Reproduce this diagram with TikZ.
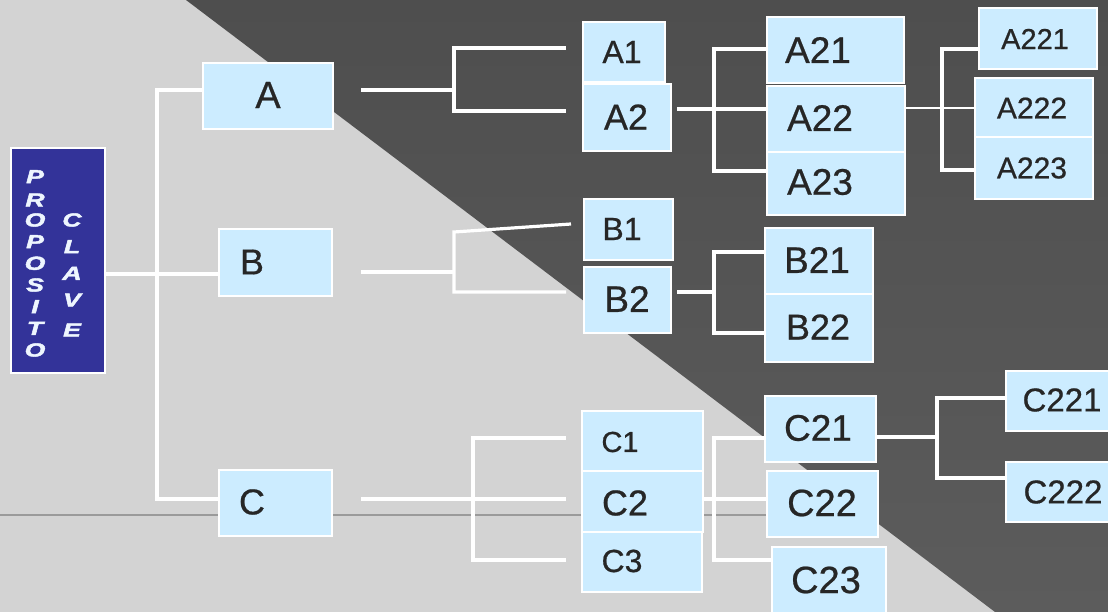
\documentclass[tikz,border=0pt]{standalone}
\usepackage{fontspec}
\setmainfont{Liberation Sans}[FakeBold=0.6]
\newfontfamily\letterfont{Liberation Sans}[FakeBold=2]
\definecolor{bglight}{HTML}{D3D3D3}
\definecolor{bgdarktop}{HTML}{4E4E4E}
\definecolor{bgdarkbot}{HTML}{5C5C5C}
\definecolor{boxfill}{RGB}{204,236,255}
\definecolor{txt}{HTML}{262626}
\definecolor{navy}{HTML}{333399}
\definecolor{rulegrey}{HTML}{9A9A9A}
\definecolor{letterfill}{HTML}{EEF6FF}
\newcommand\fsz[1]{\fontsize{#1}{#1}\selectfont}
\newcommand\bx[5]{\node[box, minimum width={(#4-#2)*1pt}, minimum height={(#5-#3)*1pt}] (#1) at ({(#2+#4)/2},{(#3+#5)/2}) {};}
\begin{document}
\begin{tikzpicture}[x=1pt,y=-1pt,
  box/.style={draw=white, line width=2.4pt, fill=boxfill, inner sep=0pt, outer sep=0pt, rectangle},
  lbl/.style={text=txt, inner sep=0pt, anchor=center},
  conn/.style={draw=white, line width=3.2pt},
  pletter/.style={text=letterfill, inner sep=0pt, font=\fsz{19}\letterfont\bfseries\itshape, xscale=1.4}]
\useasboundingbox (0,0) rectangle (1108,612);
% background
\fill[bglight] (0,0) rectangle (1108,612);
\shade[top color=bgdarktop, bottom color=bgdarkbot] (186,0) -- (1108,0) -- (1108,612) -- (995,612) -- cycle;
\draw[draw=rulegrey, line width=1.2pt] (0,515) -- (770,515);

% junction coordinates and free ends
\coordinate (j0) at (157,274);
\coordinate (j0t) at (157,90);
\coordinate (j0b) at (157,499);
\coordinate (aS) at (361,90);
\coordinate (jA) at (454,90);
\coordinate (jAt) at (454,48);
\coordinate (jAb) at (454,111);
\coordinate (aE1) at (566,48);
\coordinate (aE2) at (566,111);
\coordinate (a2S) at (677,109);
\coordinate (jA2) at (714,109);
\coordinate (jA2t) at (714,49);
\coordinate (jA2b) at (714,171);
\coordinate (jA22) at (942,108);
\coordinate (jA22t) at (942,49);
\coordinate (jA22b) at (942,170);
\coordinate (bS) at (361,272);
\coordinate (jB) at (454,272);
\coordinate (jBt) at (454,232);
\coordinate (jBb) at (454,292);
\coordinate (bE1) at (571,224);
\coordinate (bE2) at (566,292);
\coordinate (b2S) at (677,292);
\coordinate (jB2) at (714,292);
\coordinate (jB2t) at (714,252);
\coordinate (jB2b) at (714,333);
\coordinate (cS) at (361,499);
\coordinate (jC) at (473,499);
\coordinate (jCt) at (473,438);
\coordinate (jCb) at (473,560);
\coordinate (cE1) at (566,438);
\coordinate (cE2) at (566,499);
\coordinate (cE3) at (566,560);
\coordinate (jC2) at (714,499);
\coordinate (jC2t) at (714,438);
\coordinate (jC2b) at (714,560);
\coordinate (jC21) at (937,437);
\coordinate (jC21t) at (937,398);
\coordinate (jC21b) at (937,478);

% boxes
\node[draw=white, line width=2.4pt, fill=navy, inner sep=0pt, minimum width=94pt, minimum height=225pt] (P) at (58,260.5) {};
\bx{A}{203}{63}{333}{129}
\bx{B}{219}{229}{332}{296}
\bx{C}{219}{470}{332}{536}
\bx{A1}{583}{22}{665}{82}
\bx{A2}{583}{84}{671}{151}
\bx{A21}{767}{17}{904}{83}
\bx{A22}{767}{86}{905}{152}
\bx{A23}{767}{152}{905}{215}
\bx{A221}{979}{8}{1097}{69}
\bx{A222}{975}{78}{1093}{137}
\bx{A223}{975}{137}{1093}{199}
\bx{B1}{584}{199}{673}{260}
\bx{B2}{584}{267}{671}{333}
\bx{B21}{765}{228}{873}{294}
\bx{B22}{765}{294}{873}{362}
\bx{C1}{582}{411}{703}{471}
\bx{C2}{582}{471}{703}{532}
\bx{C3}{582}{532}{702}{592}
\bx{C21}{765}{396}{876}{462}
\bx{C22}{767}{471}{878}{537}
\bx{C23}{772}{547}{886}{622}
\bx{C221}{1006}{371}{1116}{431}
\bx{C222}{1006}{462}{1116}{522}

% level 0 connectors
\draw[conn] (P.east |- j0) -- (j0);
\draw[conn] (A.west |- j0t) -- (j0t) -- (j0b) -- (C.west |- j0b);
\draw[conn] (j0) -- (B.west |- j0);
% A branch
\draw[conn] (aS) -- (jA);
\draw[conn] (aE1) -- (jAt) -- (jAb) -- (aE2);
\draw[conn] (a2S) -- (jA2);
\draw[conn] (A21.west |- jA2t) -- (jA2t) -- (jA2b) -- (A23.west |- jA2b);
\draw[conn] (jA2) -- (A22.west |- jA2);
\draw[conn, line width=2.4pt] (A22.east |- jA22) -- (jA22);
\draw[conn] (A221.west |- jA22t) -- (jA22t) -- (jA22b) -- (A223.west |- jA22b);
\draw[conn, line width=2.4pt] (jA22) -- (A222.west |- jA22);
% B branch
\draw[conn] (bS) -- (jB);
\draw[conn] (bE1) -- (jBt) -- (jBb) -- (bE2);
\draw[conn] (b2S) -- (jB2);
\draw[conn] (B21.west |- jB2t) -- (jB2t) -- (jB2b) -- (B22.west |- jB2b);
% C branch
\draw[conn] (cS) -- (jC);
\draw[conn] (cE1) -- (jCt) -- (jCb) -- (cE3);
\draw[conn] (jC) -- (cE2);
\draw[conn] (C2.east |- jC2) -- (jC2);
\draw[conn] (C21.west |- jC2t) -- (jC2t) -- (jC2b) -- (C23.west |- jC2b);
\draw[conn] (jC2) -- (C22.west |- jC2);
\draw[conn] (C21.east |- jC21) -- (jC21);
\draw[conn] (C221.west |- jC21t) -- (jC21t) -- (jC21b) -- (C222.west |- jC21b);

% texts
\node[lbl, font=\fsz{38}] (At) at (268,95) {A};
\node[lbl, font=\fsz{36}] (Bt) at (252,262) {B};
\node[lbl, font=\fsz{36}] (Ct) at (252,502) {C};
\node[lbl, font=\fsz{32}] (A1t) at (622,52) {A1};
\node[lbl, font=\fsz{36}] (A2t) at (626,117) {A2};
\node[lbl, font=\fsz{37}] (A21t) at (818,50) {A21};
\node[lbl, font=\fsz{37}] (A22t) at (820,118) {A22};
\node[lbl, font=\fsz{37}] (A23t) at (820,182) {A23};
\node[lbl, font=\fsz{29}] (A221t) at (1035,39) {A221};
\node[lbl, font=\fsz{30}] (A222t) at (1032,108) {A222};
\node[lbl, font=\fsz{30}] (A223t) at (1032,168) {A223};
\node[lbl, font=\fsz{32}] (B1t) at (622,229) {B1};
\node[lbl, font=\fsz{37}] (B2t) at (627,299) {B2};
\node[lbl, font=\fsz{37}] (B21t) at (817,260) {B21};
\node[lbl, font=\fsz{36}] (B22t) at (818,327) {B22};
\node[lbl, font=\fsz{29}] (C1t) at (620,442) {C1};
\node[lbl, font=\fsz{36}] (C2t) at (625,503) {C2};
\node[lbl, font=\fsz{32}] (C3t) at (622,561) {C3};
\node[lbl, font=\fsz{37}] (C21t) at (818,428) {C21};
\node[lbl, font=\fsz{38}] (C22t) at (822,503) {C22};
\node[lbl, font=\fsz{38}] (C23t) at (826,580) {C23};
\node[lbl, font=\fsz{33}] (C221t) at (1062,400) {C221};
\node[lbl, font=\fsz{33}] (C222t) at (1063,492) {C222};

% vertical letters
\node[pletter] (p1) at (35,176.7) {P};
\node[pletter] (p2) at (35,200) {R};
\node[pletter] (p3) at (35,220) {O};
\node[pletter] (p4) at (35,241.7) {P};
\node[pletter] (p5) at (35,263.3) {O};
\node[pletter] (p6) at (35,285) {S};
\node[pletter] (p7) at (35,306.7) {I};
\node[pletter] (p8) at (35,328.3) {T};
\node[pletter] (p9) at (35,350) {O};
\node[pletter] (c1) at (72,220) {C};
\node[pletter] (c2) at (72,246.7) {L};
\node[pletter] (c3) at (72,273.3) {A};
\node[pletter] (c4) at (72,300) {V};
\node[pletter] (c5) at (72,330) {E};
\end{tikzpicture}
\end{document}
